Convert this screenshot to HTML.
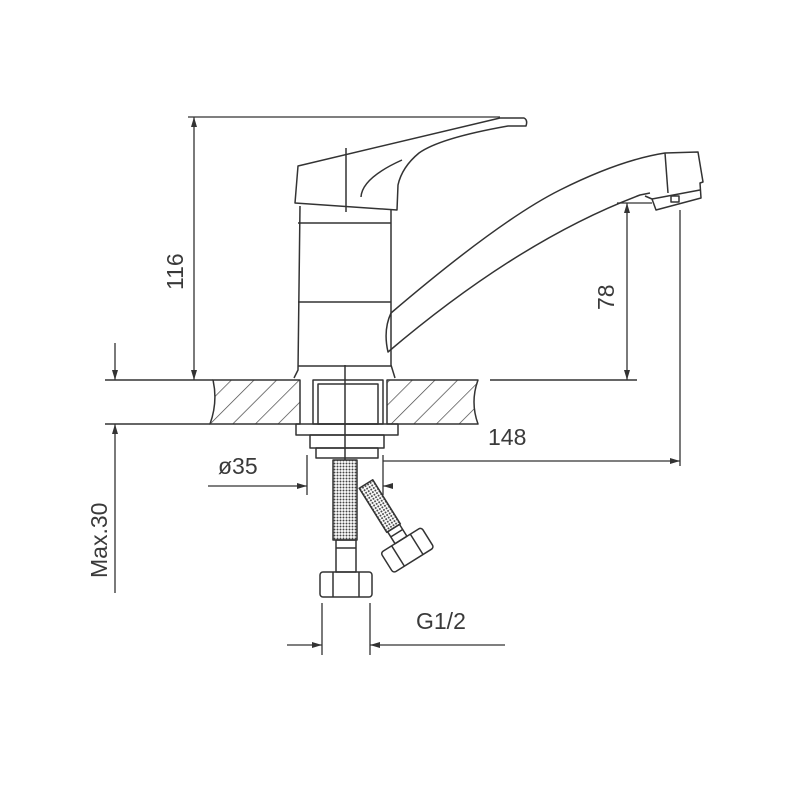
<!DOCTYPE html>
<html><head><meta charset="utf-8"><style>
html,body{margin:0;padding:0;background:#fff;}
svg{display:block;}
text{font-family:"Liberation Sans",sans-serif;fill:#3a3a3a;}
</style></head><body>
<svg width="800" height="800" viewBox="0 0 800 800" xmlns="http://www.w3.org/2000/svg">
<defs>
<pattern id="h" patternUnits="userSpaceOnUse" width="16" height="16" patternTransform="rotate(45)">
<line x1="0" y1="0" x2="0" y2="16" stroke="#444" stroke-width="1.4"/>
</pattern>
<pattern id="mesh" patternUnits="userSpaceOnUse" width="3" height="3">
<rect width="3" height="3" fill="#fff"/><circle cx="1.5" cy="1.5" r="1" fill="#444"/>
</pattern>
<marker id="a" viewBox="0 0 10 10" refX="10" refY="5" markerWidth="10" markerHeight="10" markerUnits="userSpaceOnUse" orient="auto-start-reverse">
<path d="M0,2 L10,5 L0,8 z" fill="#333"/>
</marker>
</defs>
<g fill="none" stroke="#333" stroke-width="1.5" stroke-linejoin="round">
<path d="M298,166 L500,118 L524,118 Q528,120 526,126 L508,126 Q440,138 419,153 Q402,167 398,185 L397,210 L295,203 Z"/>
<path d="M361,197 Q362,178 402,160"/>
<line x1="346" y1="148" x2="346" y2="212"/>
<path d="M300,206 L298,370 L294,378 M391,210 L391,365 L395,378"/>
<line x1="298" y1="223" x2="391" y2="223"/>
<line x1="298" y1="302" x2="391" y2="302"/>
<line x1="298" y1="366" x2="391" y2="366"/>
<path d="M391,313 Q383,330 388,352 Q520,240 640,195 L650,193"/>
<path d="M391,313 Q500,220 560,190 Q620,160 665,153 L698,152 L703,182 L700,183 L701,198 L656,210 L652,199 L645,196"/>
<line x1="665" y1="153" x2="668" y2="193"/>
<path d="M652,199 L700,190"/>
<rect x="671" y="196" width="8" height="6"/>
<path d="M213,380 L300,380 L300,424 L210,424 Q218,402 213,380 Z" fill="url(#h)"/>
<path d="M387,380 L478,380 Q470,402 478,424 L387,424 Z" fill="url(#h)"/>
<rect x="313" y="380" width="70" height="44" fill="#fff"/>
<rect x="318" y="384" width="60" height="40"/>
<line x1="105" y1="380" x2="213" y2="380"/>
<line x1="490" y1="380" x2="637" y2="380"/>
<line x1="105" y1="424" x2="210" y2="424"/>
<rect x="296" y="424" width="102" height="11"/>
<rect x="310" y="435" width="74" height="13"/>
<rect x="316" y="448" width="62" height="10"/>
<line x1="345" y1="365" x2="345" y2="470"/>
<rect x="333" y="460" width="24" height="80" fill="url(#mesh)"/>
<rect x="336" y="540" width="20" height="32"/>
<line x1="336" y1="548" x2="356" y2="548"/>
<rect x="320" y="572" width="52" height="25" rx="3"/>
<line x1="333" y1="572" x2="333" y2="597"/><line x1="359" y1="572" x2="359" y2="597"/>
<g transform="translate(366,484) rotate(-32)">
<rect x="-8" y="0" width="16" height="52" fill="url(#mesh)"/>
<rect x="-7" y="52" width="14" height="14"/>
<line x1="-7" y1="58" x2="7" y2="58"/>
<rect x="-24" y="66" width="48" height="24" rx="3"/>
<line x1="-11" y1="66" x2="-11" y2="90"/><line x1="11" y1="66" x2="11" y2="90"/>
</g>
</g>
<g fill="none" stroke="#333" stroke-width="1.3">
<line x1="188" y1="117" x2="500" y2="117"/>
<line x1="194" y1="117" x2="194" y2="380" marker-start="url(#a)" marker-end="url(#a)"/>
<line x1="617" y1="203" x2="652" y2="203"/>
<line x1="627" y1="203" x2="627" y2="380" marker-start="url(#a)" marker-end="url(#a)"/>
<line x1="680" y1="210" x2="680" y2="466"/>
<line x1="383" y1="461" x2="680" y2="461" marker-end="url(#a)"/>
<line x1="115" y1="343" x2="115" y2="380" marker-end="url(#a)"/>
<line x1="115" y1="593" x2="115" y2="424" marker-end="url(#a)"/>
<line x1="307" y1="455" x2="307" y2="495"/>
<line x1="383" y1="455" x2="383" y2="495"/>
<line x1="208" y1="486" x2="307" y2="486" marker-end="url(#a)"/>
<line x1="392" y1="486" x2="383" y2="486" marker-end="url(#a)"/>
<line x1="322" y1="603" x2="322" y2="655"/>
<line x1="370" y1="603" x2="370" y2="655"/>
<line x1="287" y1="645" x2="322" y2="645" marker-end="url(#a)"/>
<line x1="505" y1="645" x2="370" y2="645" marker-end="url(#a)"/>
</g>
<g font-size="23">
<text transform="translate(183,290) rotate(-90)">116</text>
<text transform="translate(614,310) rotate(-90)">78</text>
<text transform="translate(107,578) rotate(-90)">Max.30</text>
<text x="488" y="445">148</text>
<text x="218" y="474">ø35</text>
<text x="416" y="629">G1/2</text>
</g>
</svg>
</body></html>
